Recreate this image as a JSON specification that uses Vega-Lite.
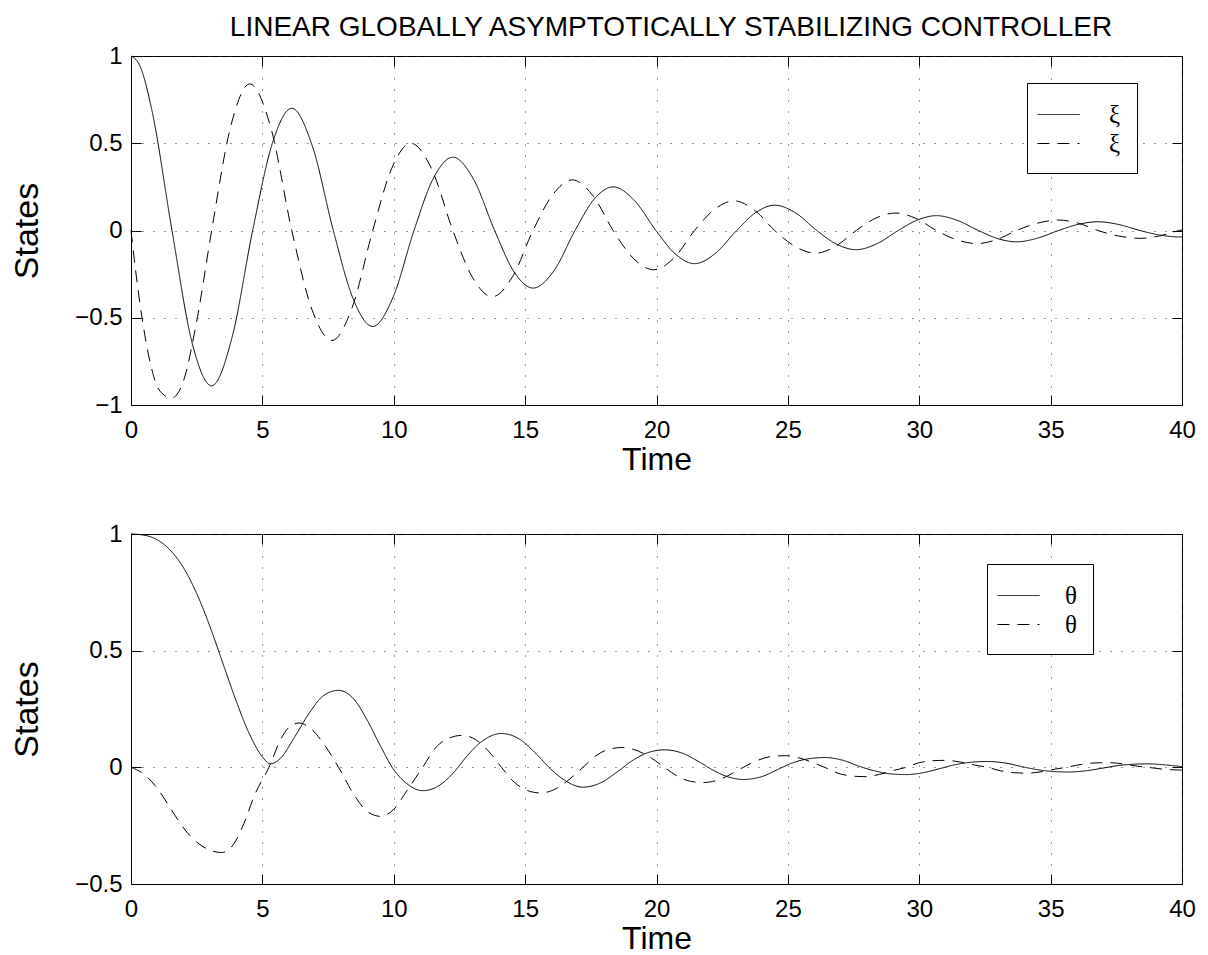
{
  "$schema": "https://vega.github.io/schema/vega-lite/v6.json",
  "padding": {"left": 10, "top": 13, "right": 20, "bottom": 0},
  "background": "white",
  "title": {"text": "LINEAR GLOBALLY ASYMPTOTICALLY STABILIZING CONTROLLER", "font": "Liberation Sans", "fontSize": 28, "fontWeight": "normal", "color": "black", "anchor": "middle", "offset": 2, "dx": 68},
  "spacing": 129,
  "bounds": "flush",
  "datasets": {
    "top": [
      {"t":0,"v":1.0,"s":"xi"},{"t":0.35,"v":0.94,"s":"xi"},{"t":0.78,"v":0.70,"s":"xi"},{"t":1.56,"v":0,"s":"xi"},{"t":2.32,"v":-0.64,"s":"xi"},{"t":3.07,"v":-0.89,"s":"xi"},{"t":3.85,"v":-0.61,"s":"xi"},{"t":4.63,"v":0,"s":"xi"},{"t":5.38,"v":0.50,"s":"xi"},{"t":6.12,"v":0.70,"s":"xi"},{"t":6.91,"v":0.48,"s":"xi"},{"t":7.7,"v":0,"s":"xi"},{"t":8.45,"v":-0.39,"s":"xi"},{"t":9.2,"v":-0.55,"s":"xi"},{"t":9.98,"v":-0.38,"s":"xi"},{"t":10.77,"v":0,"s":"xi"},{"t":11.51,"v":0.30,"s":"xi"},{"t":12.25,"v":0.42,"s":"xi"},{"t":13.05,"v":0.29,"s":"xi"},{"t":13.84,"v":0,"s":"xi"},{"t":14.57,"v":-0.235,"s":"xi"},{"t":15.3,"v":-0.33,"s":"xi"},{"t":16.1,"v":-0.23,"s":"xi"},{"t":16.9,"v":0,"s":"xi"},{"t":17.63,"v":0.18,"s":"xi"},{"t":18.35,"v":0.25,"s":"xi"},{"t":19.17,"v":0.17,"s":"xi"},{"t":19.98,"v":0,"s":"xi"},{"t":20.72,"v":-0.135,"s":"xi"},{"t":21.45,"v":-0.19,"s":"xi"},{"t":22.25,"v":-0.13,"s":"xi"},{"t":23.05,"v":0,"s":"xi"},{"t":23.78,"v":0.103,"s":"xi"},{"t":24.5,"v":0.145,"s":"xi"},{"t":25.3,"v":0.10,"s":"xi"},{"t":26.1,"v":0,"s":"xi"},{"t":26.85,"v":-0.078,"s":"xi"},{"t":27.6,"v":-0.11,"s":"xi"},{"t":28.4,"v":-0.075,"s":"xi"},{"t":29.2,"v":0,"s":"xi"},{"t":29.93,"v":0.06,"s":"xi"},{"t":30.65,"v":0.085,"s":"xi"},{"t":31.45,"v":0.058,"s":"xi"},{"t":32.25,"v":0,"s":"xi"},{"t":32.98,"v":-0.046,"s":"xi"},{"t":33.7,"v":-0.065,"s":"xi"},{"t":34.5,"v":-0.044,"s":"xi"},{"t":35.3,"v":0,"s":"xi"},{"t":36.05,"v":0.035,"s":"xi"},{"t":36.8,"v":0.05,"s":"xi"},{"t":37.6,"v":0.034,"s":"xi"},{"t":38.4,"v":0,"s":"xi"},{"t":39.15,"v":-0.026,"s":"xi"},{"t":39.9,"v":-0.037,"s":"xi"},{"t":40,"v":-0.036,"s":"xi"},
      {"t":0,"v":0,"s":"xidot"},{"t":0.2,"v":-0.26,"s":"xidot"},{"t":0.42,"v":-0.5,"s":"xidot"},{"t":0.75,"v":-0.77,"s":"xidot"},{"t":1.1,"v":-0.92,"s":"xidot"},{"t":1.55,"v":-0.96,"s":"xidot"},{"t":2.0,"v":-0.86,"s":"xidot"},{"t":2.5,"v":-0.52,"s":"xidot"},{"t":3.07,"v":0,"s":"xidot"},{"t":3.8,"v":0.60,"s":"xidot"},{"t":4.52,"v":0.84,"s":"xidot"},{"t":5.32,"v":0.59,"s":"xidot"},{"t":6.12,"v":0,"s":"xidot"},{"t":6.88,"v":-0.45,"s":"xidot"},{"t":7.65,"v":-0.63,"s":"xidot"},{"t":8.42,"v":-0.44,"s":"xidot"},{"t":9.2,"v":0,"s":"xidot"},{"t":9.92,"v":0.355,"s":"xidot"},{"t":10.65,"v":0.50,"s":"xidot"},{"t":11.45,"v":0.35,"s":"xidot"},{"t":12.25,"v":0,"s":"xidot"},{"t":13.0,"v":-0.27,"s":"xidot"},{"t":13.75,"v":-0.38,"s":"xidot"},{"t":14.52,"v":-0.265,"s":"xidot"},{"t":15.3,"v":0,"s":"xidot"},{"t":16.05,"v":0.205,"s":"xidot"},{"t":16.8,"v":0.29,"s":"xidot"},{"t":17.58,"v":0.20,"s":"xidot"},{"t":18.35,"v":0,"s":"xidot"},{"t":19.12,"v":-0.16,"s":"xidot"},{"t":19.9,"v":-0.225,"s":"xidot"},{"t":20.68,"v":-0.155,"s":"xidot"},{"t":21.45,"v":0,"s":"xidot"},{"t":22.2,"v":0.12,"s":"xidot"},{"t":22.95,"v":0.17,"s":"xidot"},{"t":23.72,"v":0.118,"s":"xidot"},{"t":24.5,"v":0,"s":"xidot"},{"t":25.28,"v":-0.092,"s":"xidot"},{"t":26.05,"v":-0.13,"s":"xidot"},{"t":26.82,"v":-0.09,"s":"xidot"},{"t":27.6,"v":0,"s":"xidot"},{"t":28.35,"v":0.071,"s":"xidot"},{"t":29.1,"v":0.10,"s":"xidot"},{"t":29.88,"v":0.069,"s":"xidot"},{"t":30.65,"v":0,"s":"xidot"},{"t":31.42,"v":-0.053,"s":"xidot"},{"t":32.2,"v":-0.075,"s":"xidot"},{"t":32.95,"v":-0.052,"s":"xidot"},{"t":33.7,"v":0,"s":"xidot"},{"t":34.5,"v":0.042,"s":"xidot"},{"t":35.3,"v":0.06,"s":"xidot"},{"t":36.05,"v":0.042,"s":"xidot"},{"t":36.8,"v":0,"s":"xidot"},{"t":37.6,"v":-0.032,"s":"xidot"},{"t":38.4,"v":-0.045,"s":"xidot"},{"t":39.15,"v":-0.031,"s":"xidot"},{"t":39.9,"v":0,"s":"xidot"},{"t":40,"v":0.003,"s":"xidot"}
    ],
    "bottom": [
      {"t":0,"v":1.0,"s":"theta"},{"t":0.5,"v":0.995,"s":"theta"},{"t":1.0,"v":0.975,"s":"theta"},{"t":1.5,"v":0.93,"s":"theta"},{"t":2.0,"v":0.855,"s":"theta"},{"t":2.5,"v":0.745,"s":"theta"},{"t":3.0,"v":0.605,"s":"theta"},{"t":3.5,"v":0.445,"s":"theta"},{"t":4.0,"v":0.285,"s":"theta"},{"t":4.5,"v":0.145,"s":"theta"},{"t":5.0,"v":0.045,"s":"theta"},{"t":5.3,"v":0.015,"s":"theta"},{"t":5.7,"v":0.04,"s":"theta"},{"t":6.2,"v":0.125,"s":"theta"},{"t":6.8,"v":0.235,"s":"theta"},{"t":7.3,"v":0.305,"s":"theta"},{"t":7.9,"v":0.33,"s":"theta"},{"t":8.5,"v":0.29,"s":"theta"},{"t":9.0,"v":0.2,"s":"theta"},{"t":9.5,"v":0.09,"s":"theta"},{"t":10.0,"v":-0.01,"s":"theta"},{"t":10.5,"v":-0.07,"s":"theta"},{"t":11.1,"v":-0.1,"s":"theta"},{"t":11.7,"v":-0.08,"s":"theta"},{"t":12.3,"v":-0.02,"s":"theta"},{"t":12.8,"v":0.05,"s":"theta"},{"t":13.4,"v":0.115,"s":"theta"},{"t":14.1,"v":0.145,"s":"theta"},{"t":14.8,"v":0.12,"s":"theta"},{"t":15.4,"v":0.06,"s":"theta"},{"t":16.0,"v":-0.01,"s":"theta"},{"t":16.5,"v":-0.055,"s":"theta"},{"t":17.2,"v":-0.085,"s":"theta"},{"t":17.9,"v":-0.065,"s":"theta"},{"t":18.5,"v":-0.02,"s":"theta"},{"t":19.1,"v":0.03,"s":"theta"},{"t":19.6,"v":0.06,"s":"theta"},{"t":20.3,"v":0.075,"s":"theta"},{"t":21.0,"v":0.06,"s":"theta"},{"t":21.6,"v":0.025,"s":"theta"},{"t":22.2,"v":-0.015,"s":"theta"},{"t":22.7,"v":-0.04,"s":"theta"},{"t":23.3,"v":-0.052,"s":"theta"},{"t":24.0,"v":-0.04,"s":"theta"},{"t":24.6,"v":-0.01,"s":"theta"},{"t":25.2,"v":0.02,"s":"theta"},{"t":25.8,"v":0.037,"s":"theta"},{"t":26.4,"v":0.042,"s":"theta"},{"t":27.1,"v":0.03,"s":"theta"},{"t":27.7,"v":0.005,"s":"theta"},{"t":28.3,"v":-0.015,"s":"theta"},{"t":28.9,"v":-0.028,"s":"theta"},{"t":29.5,"v":-0.031,"s":"theta"},{"t":30.2,"v":-0.022,"s":"theta"},{"t":30.8,"v":-0.005,"s":"theta"},{"t":31.4,"v":0.012,"s":"theta"},{"t":32.0,"v":0.022,"s":"theta"},{"t":32.6,"v":0.025,"s":"theta"},{"t":33.3,"v":0.018,"s":"theta"},{"t":33.9,"v":0.003,"s":"theta"},{"t":34.5,"v":-0.01,"s":"theta"},{"t":35.0,"v":-0.017,"s":"theta"},{"t":35.7,"v":-0.02,"s":"theta"},{"t":36.4,"v":-0.014,"s":"theta"},{"t":37.0,"v":-0.003,"s":"theta"},{"t":37.6,"v":0.008,"s":"theta"},{"t":38.1,"v":0.013,"s":"theta"},{"t":38.7,"v":0.015,"s":"theta"},{"t":39.4,"v":0.01,"s":"theta"},{"t":40,"v":0.003,"s":"theta"},
      {"t":0,"v":0,"s":"thetadot"},{"t":0.5,"v":-0.03,"s":"thetadot"},{"t":1.0,"v":-0.09,"s":"thetadot"},{"t":1.5,"v":-0.175,"s":"thetadot"},{"t":2.0,"v":-0.26,"s":"thetadot"},{"t":2.5,"v":-0.32,"s":"thetadot"},{"t":3.0,"v":-0.355,"s":"thetadot"},{"t":3.45,"v":-0.365,"s":"thetadot"},{"t":3.9,"v":-0.33,"s":"thetadot"},{"t":4.3,"v":-0.24,"s":"thetadot"},{"t":4.7,"v":-0.12,"s":"thetadot"},{"t":5.25,"v":0,"s":"thetadot"},{"t":5.7,"v":0.12,"s":"thetadot"},{"t":6.0,"v":0.17,"s":"thetadot"},{"t":6.4,"v":0.19,"s":"thetadot"},{"t":6.9,"v":0.16,"s":"thetadot"},{"t":7.4,"v":0.09,"s":"thetadot"},{"t":7.9,"v":0,"s":"thetadot"},{"t":8.5,"v":-0.12,"s":"thetadot"},{"t":9.0,"v":-0.19,"s":"thetadot"},{"t":9.5,"v":-0.21,"s":"thetadot"},{"t":10.0,"v":-0.18,"s":"thetadot"},{"t":10.5,"v":-0.10,"s":"thetadot"},{"t":11.1,"v":0,"s":"thetadot"},{"t":11.6,"v":0.085,"s":"thetadot"},{"t":12.1,"v":0.125,"s":"thetadot"},{"t":12.6,"v":0.137,"s":"thetadot"},{"t":13.1,"v":0.12,"s":"thetadot"},{"t":13.6,"v":0.07,"s":"thetadot"},{"t":14.1,"v":0,"s":"thetadot"},{"t":14.6,"v":-0.065,"s":"thetadot"},{"t":15.1,"v":-0.10,"s":"thetadot"},{"t":15.6,"v":-0.11,"s":"thetadot"},{"t":16.2,"v":-0.09,"s":"thetadot"},{"t":16.7,"v":-0.05,"s":"thetadot"},{"t":17.2,"v":0,"s":"thetadot"},{"t":17.7,"v":0.05,"s":"thetadot"},{"t":18.2,"v":0.078,"s":"thetadot"},{"t":18.7,"v":0.085,"s":"thetadot"},{"t":19.3,"v":0.07,"s":"thetadot"},{"t":19.8,"v":0.04,"s":"thetadot"},{"t":20.3,"v":0,"s":"thetadot"},{"t":20.8,"v":-0.038,"s":"thetadot"},{"t":21.3,"v":-0.06,"s":"thetadot"},{"t":21.8,"v":-0.065,"s":"thetadot"},{"t":22.4,"v":-0.052,"s":"thetadot"},{"t":22.9,"v":-0.025,"s":"thetadot"},{"t":23.3,"v":0,"s":"thetadot"},{"t":23.9,"v":0.032,"s":"thetadot"},{"t":24.4,"v":0.047,"s":"thetadot"},{"t":24.9,"v":0.05,"s":"thetadot"},{"t":25.5,"v":0.038,"s":"thetadot"},{"t":26.0,"v":0.018,"s":"thetadot"},{"t":26.4,"v":0,"s":"thetadot"},{"t":26.9,"v":-0.025,"s":"thetadot"},{"t":27.4,"v":-0.037,"s":"thetadot"},{"t":27.9,"v":-0.04,"s":"thetadot"},{"t":28.5,"v":-0.03,"s":"thetadot"},{"t":29.0,"v":-0.014,"s":"thetadot"},{"t":29.5,"v":0,"s":"thetadot"},{"t":30.0,"v":0.02,"s":"thetadot"},{"t":30.5,"v":0.028,"s":"thetadot"},{"t":31.0,"v":0.03,"s":"thetadot"},{"t":31.6,"v":0.022,"s":"thetadot"},{"t":32.1,"v":0.01,"s":"thetadot"},{"t":32.6,"v":0,"s":"thetadot"},{"t":33.1,"v":-0.015,"s":"thetadot"},{"t":33.6,"v":-0.023,"s":"thetadot"},{"t":34.1,"v":-0.025,"s":"thetadot"},{"t":34.7,"v":-0.018,"s":"thetadot"},{"t":35.2,"v":-0.007,"s":"thetadot"},{"t":35.6,"v":0,"s":"thetadot"},{"t":36.2,"v":0.013,"s":"thetadot"},{"t":36.7,"v":0.019,"s":"thetadot"},{"t":37.2,"v":0.02,"s":"thetadot"},{"t":37.8,"v":0.014,"s":"thetadot"},{"t":38.3,"v":0.005,"s":"thetadot"},{"t":38.7,"v":0,"s":"thetadot"},{"t":39.3,"v":-0.008,"s":"thetadot"},{"t":40,"v":-0.012,"s":"thetadot"}
    ]
  },
  "vconcat": [
    {
      "width": 1051, "height": 349,
      "data": {"name": "top"},
      "layer": [
        {
          "mark": {"type": "line", "color": "black", "strokeWidth": 1, "interpolate": "monotone"},
          "encoding": {
            "x": {"field": "t", "type": "quantitative", "scale": {"domain": [0, 40], "nice": false, "zero": false},
                  "axis": {"orient": "bottom", "values": [0,5,10,15,20,25,30,35,40], "title": "Time", "format": "~g"}},
            "y": {"field": "v", "type": "quantitative", "scale": {"domain": [-1, 1], "nice": false, "zero": false},
                  "axis": {"orient": "left", "values": [-1,-0.5,0,0.5,1], "title": "States", "format": "~g"}},
            "strokeDash": {"field": "s", "type": "nominal", "sort": ["xi","xidot"],
                  "scale": {"domain": ["xi","xidot"], "range": [[1,0],[12,8]]},
                  "legend": {"orient": "none", "legendX": 896, "legendY": 27, "labelOffset": 35, "labelExpr": "'ξ   '"}}
          }
        },
        {
          "mark": {"type": "line", "strokeOpacity": 0},
          "encoding": {
            "x": {"field": "t", "type": "quantitative", "scale": {"domain": [0, 40], "nice": false, "zero": false},
                  "axis": {"orient": "top", "values": [0,5,10,15,20,25,30,35,40], "labels": false, "title": null, "grid": false, "domain": false}},
            "y": {"field": "v", "type": "quantitative", "scale": {"domain": [-1, 1], "nice": false, "zero": false},
                  "axis": {"orient": "right", "values": [-1,-0.5,0,0.5,1], "labels": false, "title": null, "grid": false, "domain": false}},
            "detail": {"field": "s"}
          }
        }
      ]
    },
    {
      "width": 1051, "height": 350,
      "data": {"name": "bottom"},
      "layer": [
        {
          "mark": {"type": "line", "color": "black", "strokeWidth": 1, "interpolate": "monotone"},
          "encoding": {
            "x": {"field": "t", "type": "quantitative", "scale": {"domain": [0, 40], "nice": false, "zero": false},
                  "axis": {"orient": "bottom", "values": [0,5,10,15,20,25,30,35,40], "title": "Time", "format": "~g"}},
            "y": {"field": "v", "type": "quantitative", "scale": {"domain": [-0.5, 1], "nice": false, "zero": false},
                  "axis": {"orient": "left", "values": [-0.5,0,0.5,1], "title": "States", "format": "~g"}},
            "strokeDash": {"field": "s", "type": "nominal", "sort": ["theta","thetadot"],
                  "scale": {"domain": ["theta","thetadot"], "range": [[1,0],[12,8]]},
                  "legend": {"orient": "none", "legendX": 856, "legendY": 30, "labelOffset": 31, "labelExpr": "'θ '"}}
          }
        },
        {
          "mark": {"type": "line", "strokeOpacity": 0},
          "encoding": {
            "x": {"field": "t", "type": "quantitative", "scale": {"domain": [0, 40], "nice": false, "zero": false},
                  "axis": {"orient": "top", "values": [0,5,10,15,20,25,30,35,40], "labels": false, "title": null, "grid": false, "domain": false}},
            "y": {"field": "v", "type": "quantitative", "scale": {"domain": [-0.5, 1], "nice": false, "zero": false},
                  "axis": {"orient": "right", "values": [-0.5,0,0.5,1], "labels": false, "title": null, "grid": false, "domain": false}},
            "detail": {"field": "s"}
          }
        }
      ]
    }
  ],
  "resolve": {"scale": {"strokeDash": "independent"}},
  "config": {
    "font": "Liberation Sans",
    "view": {"stroke": "black", "strokeWidth": 1},
    "axis": {
      "domainColor": "black", "domainWidth": 1,
      "tickColor": "black", "tickWidth": 1, "tickSize": -10,
      "labelColor": "black", "labelFont": "Liberation Sans", "labelFontSize": 24, "labelFlush": false,
      "titleColor": "black", "titleFont": "Liberation Sans", "titleFontSize": 34, "titleFontWeight": "normal",
      "gridColor": "#333333", "gridDash": [1, 10], "gridOpacity": 1, "gridWidth": 1
    },
    "axisX": {"labelPadding": 23, "titlePadding": 2, "titleFontSize": 32},
    "axisY": {"labelPadding": 19, "titlePadding": 30},
    "legend": {
      "title": null, "strokeColor": "black", "fillColor": "white", "padding": 16,
      "symbolType": "M-1.4,0H1.4", "symbolSize": 900, "symbolStrokeWidth": 1, "symbolStrokeColor": "black", "symbolOpacity": 1,
      "labelFont": "Liberation Serif", "labelFontSize": 25, "labelColor": "black", "labelOffset": 31,
      "rowPadding": 0
    }
  }
}
